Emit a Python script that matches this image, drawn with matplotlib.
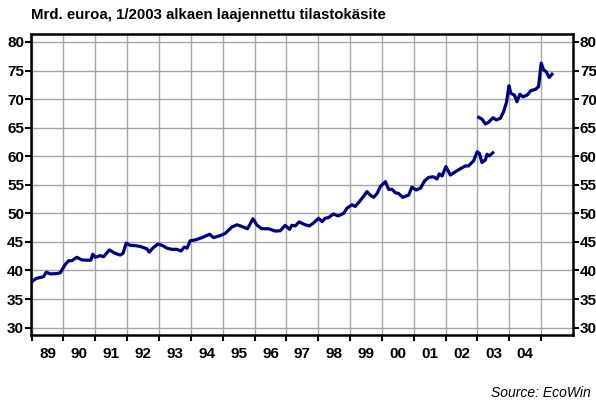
import matplotlib
matplotlib.use("Agg")
import matplotlib.pyplot as plt
import numpy as np

plt.rcParams['font.family'] = ['Liberation Sans', 'DejaVu Sans']

# Series 1: old statistical concept (decimal year, bn EUR)
t_old = [1989.01, 1989.14, 1989.37, 1989.46, 1989.58, 1989.79, 1989.90, 1990.05, 1990.16, 1990.26,
         1990.42, 1990.58, 1990.73, 1990.86, 1990.92, 1991.00, 1991.15, 1991.26, 1991.44, 1991.62,
         1991.78, 1991.87, 1991.97, 1992.09, 1992.25, 1992.41, 1992.62, 1992.69, 1992.82, 1992.97,
         1993.13, 1993.25, 1993.40, 1993.56, 1993.69, 1993.79, 1993.88, 1993.98, 1994.14, 1994.35,
         1994.59, 1994.71, 1994.92, 1995.08, 1995.29, 1995.45, 1995.60, 1995.78, 1995.95, 1996.08,
         1996.23, 1996.44, 1996.65, 1996.81, 1996.96, 1997.10, 1997.17, 1997.28, 1997.40, 1997.59,
         1997.72, 1997.85, 1998.01, 1998.12, 1998.22, 1998.32, 1998.48, 1998.62, 1998.80, 1998.90,
         1999.06, 1999.16, 1999.27, 1999.42, 1999.53, 1999.63, 1999.74, 1999.85, 1999.95, 2000.11,
         2000.21, 2000.32, 2000.42, 2000.52, 2000.65, 2000.84, 2000.94, 2001.07, 2001.21, 2001.34,
         2001.47, 2001.62, 2001.73, 2001.80, 2001.89, 2002.01, 2002.15, 2002.31, 2002.46, 2002.62,
         2002.72, 2002.88, 2002.99, 2003.06, 2003.14, 2003.25, 2003.30, 2003.37, 2003.48]
v_old = [38.05, 38.6, 38.9, 39.7, 39.4, 39.45, 39.6, 41.0, 41.7, 41.7,
         42.3, 41.85, 41.8, 41.8, 42.85, 42.3, 42.6, 42.4, 43.6, 43.0,
         42.7, 43.0, 44.8, 44.4, 44.35, 44.2, 43.8, 43.2, 44.0, 44.65,
         44.3, 43.9, 43.7, 43.7, 43.4, 44.1, 43.9, 45.2, 45.35, 45.75,
         46.35, 45.75, 46.1, 46.5, 47.6, 48.0, 47.7, 47.3, 49.05, 47.9,
         47.3, 47.3, 46.9, 46.95, 47.9, 47.2, 47.9, 47.8, 48.5, 48.0,
         47.8, 48.3, 49.15, 48.55, 49.15, 49.25, 49.9, 49.55, 50.0, 50.9,
         51.5, 51.2, 51.9, 52.95, 53.8, 53.2, 52.8, 53.5, 54.7, 55.55,
         54.2, 54.2, 53.6, 53.5, 52.8, 53.2, 54.6, 54.1, 54.4, 55.7,
         56.3, 56.4, 56.0, 56.9, 56.55, 58.2, 56.7, 57.3, 57.8, 58.3,
         58.3, 59.2, 60.8, 60.5, 58.9, 59.35, 60.35, 60.05, 60.6]

# Series 2: extended statistical concept from 1/2003
t_new = [2003.04, 2003.14, 2003.25, 2003.35, 2003.49, 2003.59, 2003.72, 2003.82, 2003.91, 2003.99,
         2004.05, 2004.16, 2004.24, 2004.33, 2004.43, 2004.56, 2004.68, 2004.82, 2004.92, 2005.00,
         2005.08, 2005.16, 2005.25, 2005.34]
v_new = [66.8, 66.5, 65.65, 65.95, 66.75, 66.35, 66.65, 67.8, 69.4, 72.35,
         71.0, 70.7, 69.55, 70.85, 70.4, 70.7, 71.5, 71.7, 72.2, 76.3,
         75.1, 74.8, 73.8, 74.35]

year_labels = ['89', '90', '91', '92', '93', '94', '95', '96', '97', '98',
               '99', '00', '01', '02', '03', '04']
y_ticks = [30, 35, 40, 45, 50, 55, 60, 65, 70, 75, 80]

title = "Mrd. euroa, 1/2003 alkaen laajennettu tilastokäsite"
source = "Source: EcoWin"

fig = plt.figure(figsize=(5.96, 4.01), dpi=100)
ax = fig.add_axes([31/596, 1-335/401, (573-31)/596, (335-34)/401])

line_color = '#000080'
ax.plot(t_old, v_old, color=line_color, lw=2.3, solid_joinstyle='round')
ax.plot(t_new, v_new, color=line_color, lw=2.3, solid_joinstyle='round')

ax.set_xlim(1988.98, 2006.0)
ax.set_ylim(28.7, 81.4)

major_x = np.arange(1989, 2006)
ax.set_xticks(major_x)
ax.set_xticklabels([])
ax.set_xticks(np.arange(1989.5, 1989.5 + len(year_labels)), minor=True)
ax.set_xticklabels(year_labels, minor=True, fontsize=11, fontweight='bold')
ax.tick_params(axis='x', which='minor', length=0, pad=9)
ax.tick_params(axis='x', which='major', length=4, width=1.5, direction='out', color='black')

ax.set_yticks(y_ticks)
ax.set_yticklabels([str(v) for v in y_ticks], fontsize=11, fontweight='bold')
ax.tick_params(axis='y', which='major', length=4, width=1.5, direction='out',
               left=True, right=True, labelleft=True, labelright=True, pad=1)

ax.grid(True, which='major', color='#a6a6a6', lw=1.0)
ax.set_axisbelow(True)
for s in ax.spines.values():
    s.set_linewidth(1.8)
    s.set_color('black')

fig.text(31/596, 1-15/401, title, fontsize=10.8, fontweight='bold', va='center', ha='left')
fig.text(591/596, 1-393/401, source, fontsize=10, style='italic', va='center', ha='right')

fig.savefig('out.png', dpi=100)
